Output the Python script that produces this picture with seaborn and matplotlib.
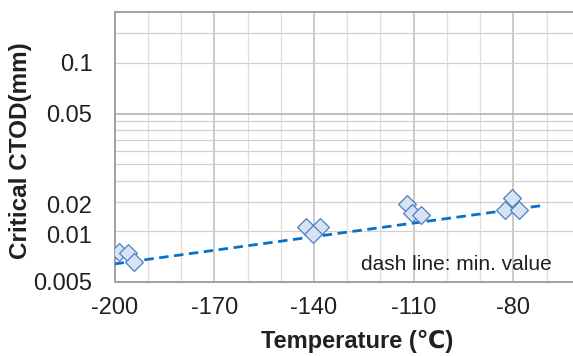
#!/usr/bin/env python3
""" Critical CTOD vs temperature, log axis with hand placed tick labels """

import pandas as pd
import matplotlib
matplotlib.use('Agg')
import matplotlib.pyplot as plt
import seaborn as sns

# Measured points (y in axis units of the log scale)
temps = [-198.7, -196.0, -194.2, -142.5, -138.2, -140.2,
         -112.0, -110.4, -107.9, -80.3, -82.4, -78.4]
ctod = [0.0150, 0.0148, 0.0131, 0.0213, 0.0213, 0.0192,
        0.0292, 0.0255, 0.0251, 0.0316, 0.0269, 0.0269]

# Dash line: minimum value trend
min_temps = [-200, -71.5]
min_ctod = [0.0128, 0.0284]

x_ticks = [-200, -170, -140, -110, -80]
y_tick_pos = [0.01, 0.019, 0.029, 0.1, 0.2]
y_tick_labels = ['0.005', '0.01', '0.02', '0.05', '0.1']


def draw_grid(ax):
  """ Excel-like grid: light minor lines, darker major lines """
  for t in range(-190, -50, 10):
    major = t in x_ticks
    ax.axvline(t, color='#c2c2c2' if major else '#dedede',
               lw=1.2 if major else 0.9, zorder=0)
  for v in [0.02, 0.03, 0.04, 0.05, 0.06, 0.07, 0.08, 0.09, 0.2, 0.3]:
    ax.axhline(v, color='#d0d0d0', lw=0.9, zorder=0)
  ax.axhline(0.1, color='#b8b8b8', lw=1.3, zorder=0)


def main():
  sns.set_style('white')
  plt.rcParams['font.family'] = ['Liberation Sans', 'DejaVu Sans']

  fig = plt.figure(figsize=(5.73, 3.56), dpi=100)
  ax = fig.add_axes([0.2, 0.208, 0.812, 0.758])

  pts = pd.DataFrame({'Temperature': temps, 'CTOD': ctod})
  line = pd.DataFrame({'Temperature': min_temps, 'CTOD': min_ctod})

  ax.set_yscale('log')
  draw_grid(ax)
  sns.lineplot(data=line, x='Temperature', y='CTOD', ax=ax, color='#0a70c4',
               lw=2.0, dashes=(3.4, 2.0), zorder=3)
  sns.scatterplot(data=pts, x='Temperature', y='CTOD', ax=ax, marker='D',
                  s=82, color='#d7e3f3', edgecolor='#4c80c2', linewidth=0.9,
                  zorder=4)

  ax.set_xlim(-200, -60)
  ax.set_ylim(0.01, 0.4)
  ax.set_xticks(x_ticks)
  ax.set_xticklabels([str(t) for t in x_ticks])
  ax.set_yticks(y_tick_pos)
  ax.set_yticklabels(y_tick_labels)
  ax.minorticks_off()
  ax.tick_params(axis='x', length=0, pad=11, labelsize=17, colors='#231f20')
  ax.tick_params(axis='y', length=0, pad=16, labelsize=17, colors='#231f20')
  ax.set_xlabel('')
  ax.set_ylabel('')

  for side in ['left', 'bottom', 'top']:
    ax.spines[side].set_color('#a0a0a0')
    ax.spines[side].set_linewidth(1.4)
  ax.spines['right'].set_visible(False)

  ax.text(0.94, 0.065, 'dash line: min. value', transform=ax.transAxes,
          ha='right', va='center', fontsize=15, color='#231f20')

  fig.text(0.623, 0.042, 'Temperature (\u2103)', ha='center', va='center',
           fontsize=17, fontweight='bold', color='#231f20')
  fig.text(0.035, 0.578, 'Critical CTOD(mm)', ha='center', va='center',
           rotation=90, fontsize=17.5, fontweight='bold', color='#231f20')

  fig.savefig('out.png', dpi=100)


if __name__ == '__main__':
  main()
